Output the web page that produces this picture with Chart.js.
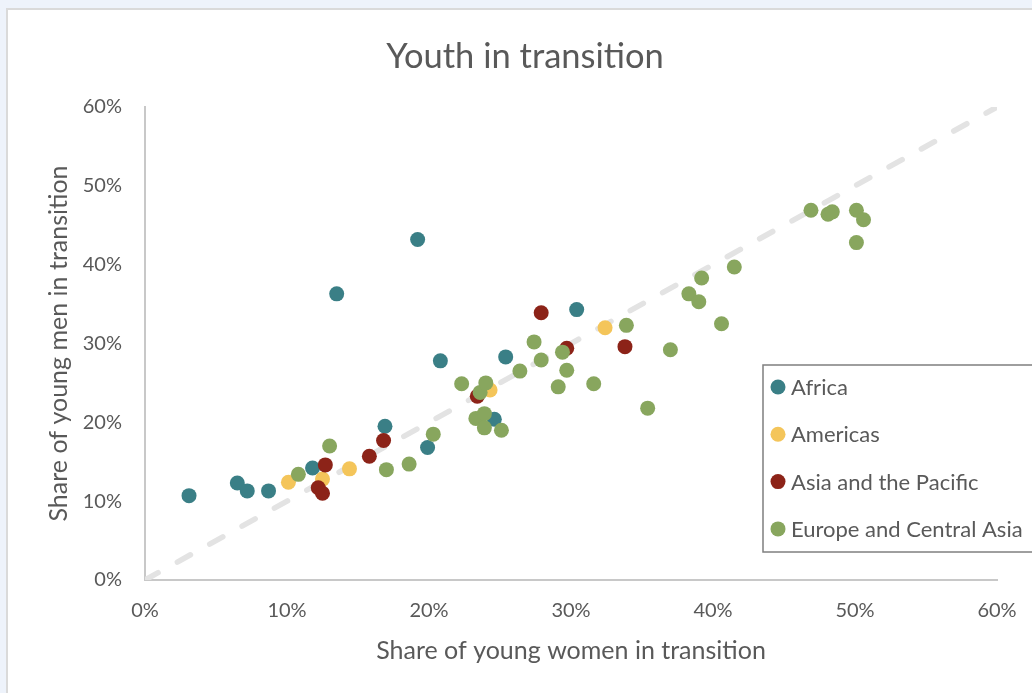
<!DOCTYPE html>
<html>
<head>
<meta charset="utf-8">
<title>Youth in transition</title>
<script src="https://cdn.jsdelivr.net/npm/chart.js@4.4.0/dist/chart.umd.min.js"></script>
<style>
  html, body { margin: 0; padding: 0; background: #EEF3FB; overflow: hidden; }
  #panel {
    position: absolute; left: 6px; top: 8px; width: 1100px; height: 800px;
    background: #FFFFFF; border-left: 2px solid #DADADA; border-top: 2px solid #DADADA;
  }
  #wrap { position: absolute; left: 0; top: 0; width: 1032px; height: 693px; }
</style>
</head>
<body>
<div id="panel"></div>
<div id="wrap"><canvas id="chart" width="1032" height="693"></canvas></div>
<script>
// Share of young people in transition, by region (percent)
const regions = ['Africa', 'Americas', 'Asia and the Pacific', 'Europe and Central Asia'];

const africaWomen = [3.1, 6.5, 7.2, 8.7, 11.8, 16.9, 19.9, 20.8, 25.4, 30.4, 13.5, 19.2, 24.6];
const africaMen   = [10.7, 12.3, 11.3, 11.3, 14.2, 19.5, 16.8, 27.8, 28.3, 34.3, 36.3, 43.2, 20.4];

const americasWomen = [10.1, 12.5, 14.4, 24.3, 32.4];
const americasMen   = [12.4, 12.8, 14.1, 24.1, 32.0];

const asiaWomen = [12.7, 12.2, 12.5, 15.8, 16.8, 23.4, 27.9, 29.7, 33.8];
const asiaMen   = [14.6, 11.7, 11.0, 15.7, 17.7, 23.3, 33.9, 29.4, 29.6];

const europeWomen = [10.8, 13.0, 17.0, 18.6, 20.3, 22.3, 23.3, 23.6, 23.9, 23.9, 24.0, 25.1, 26.4,
                     27.4, 27.9, 29.1, 29.4, 29.7, 31.6, 33.9, 35.4, 37.0, 38.3, 39.0, 39.2, 40.6,
                     41.5, 46.9, 48.1, 48.4, 50.1, 50.6, 50.1];
const europeMen   = [13.4, 17.0, 14.0, 14.7, 18.5, 24.9, 20.5, 23.8, 21.1, 19.3, 25.0, 19.0, 26.5,
                     30.2, 27.9, 24.5, 28.9, 26.6, 24.9, 32.3, 21.8, 29.2, 36.3, 35.3, 38.3, 32.5,
                     39.7, 46.9, 46.4, 46.7, 46.9, 45.7, 42.8];

// Equal-share reference line (women = men)
const parityLine = [0, 60];

const axisMin = 0, axisMax = 60, axisStep = 10;

const chartTitle = 'Youth in transition';
const xAxisTitle = 'Share of young women in transition';
const yAxisTitle = 'Share of young men in transition';

const TEXT = '#595959';
const FONT = 'Lato';
const colors = ['#3A7F86', '#F4C55A', '#8C2318', '#88A65E'];

function toPoints(xs, ys) {
  return xs.map((x, i) => ({ x: x, y: ys[i] }));
}

const series = [
  [africaWomen, africaMen],
  [americasWomen, americasMen],
  [asiaWomen, asiaMen],
  [europeWomen, europeMen]
];

const scatterSets = series.map((s, i) => ({
  type: 'scatter',
  label: regions[i],
  data: toPoints(s[0], s[1]),
  backgroundColor: colors[i],
  borderColor: colors[i],
  borderWidth: 0,
  pointRadius: 7.5,
  pointHoverRadius: 7.5,
  order: series.length - i   // later regions are painted on top
}));

const paritySet = {
  type: 'line',
  label: 'parity',
  data: toPoints(parityLine, parityLine),
  borderColor: '#E3E3E3',
  borderWidth: 5.5,
  borderDash: [15, 22],
  borderCapStyle: 'round',
  pointRadius: 0,
  fill: false,
  order: 10
};

// Chart title and boxed legend drawn on top of the plot
const decor = {
  id: 'decor',
  afterDraw(chart) {
    const ctx = chart.ctx;
    ctx.save();
    ctx.fillStyle = TEXT;
    ctx.font = '34.5px ' + FONT;
    ctx.textAlign = 'center';
    ctx.textBaseline = 'alphabetic';
    ctx.fillText(chartTitle, 525, 68);

    // legend box
    const bx = 763, by = 365, bw = 300, bh = 187;
    ctx.fillStyle = '#FFFFFF';
    ctx.fillRect(bx, by, bw, bh);
    ctx.strokeStyle = '#7F7F7F';
    ctx.lineWidth = 1.5;
    ctx.strokeRect(bx, by, bw, bh);

    ctx.font = '22px ' + FONT;
    ctx.textAlign = 'left';
    ctx.textBaseline = 'middle';
    scatterSets.forEach((ds, i) => {
      const cy = 387 + i * 47.3;
      ctx.fillStyle = ds.backgroundColor;
      ctx.beginPath();
      ctx.arc(778, cy, 7.5, 0, Math.PI * 2);
      ctx.fill();
      ctx.fillStyle = TEXT;
      ctx.fillText(ds.label, 791, cy + 1);
    });
    ctx.restore();
  }
};

const pct = v => v + '%';

new Chart(document.getElementById('chart'), {
  data: { datasets: [...scatterSets, paritySet] },
  options: {
    responsive: false,
    animation: false,
    events: [],
    layout: { padding: { top: 107, right: 35, bottom: 0, left: 0 } },
    plugins: {
      legend: { display: false },
      title: { display: false },
      tooltip: { enabled: false }
    },
    scales: {
      x: {
        type: 'linear',
        min: axisMin, max: axisMax,
        grid: { display: false, drawTicks: false },
        border: { display: true, color: '#C8C8C8', width: 2 },
        ticks: { stepSize: axisStep, callback: pct, color: TEXT, padding: 19,
                 font: { family: FONT, size: 20 } },
        title: { display: true, text: xAxisTitle, color: TEXT,
                 font: { family: FONT, size: 25 }, padding: { top: 0, bottom: 27 } },
        afterFit(scale) {
          scale.height = 113;
          // end labels may overhang; the layout padding already leaves room
          scale.paddingLeft = 0;
          scale.paddingRight = 0;
        }
      },
      y: {
        type: 'linear',
        min: axisMin, max: axisMax,
        grid: { display: false, drawTicks: false },
        border: { display: true, color: '#C8C8C8', width: 2 },
        ticks: { stepSize: axisStep, callback: pct, color: TEXT, padding: 23,
                 font: { family: FONT, size: 20 } },
        title: { display: true, text: yAxisTitle, color: TEXT,
                 font: { family: FONT, size: 25 }, padding: { top: 44, bottom: 0 } },
        afterFit(scale) {
          scale.width = 145;
          scale.paddingTop = 0;
          scale.paddingBottom = 0;
        }
      }
    }
  },
  plugins: [decor]
});
</script>
</body>
</html>
